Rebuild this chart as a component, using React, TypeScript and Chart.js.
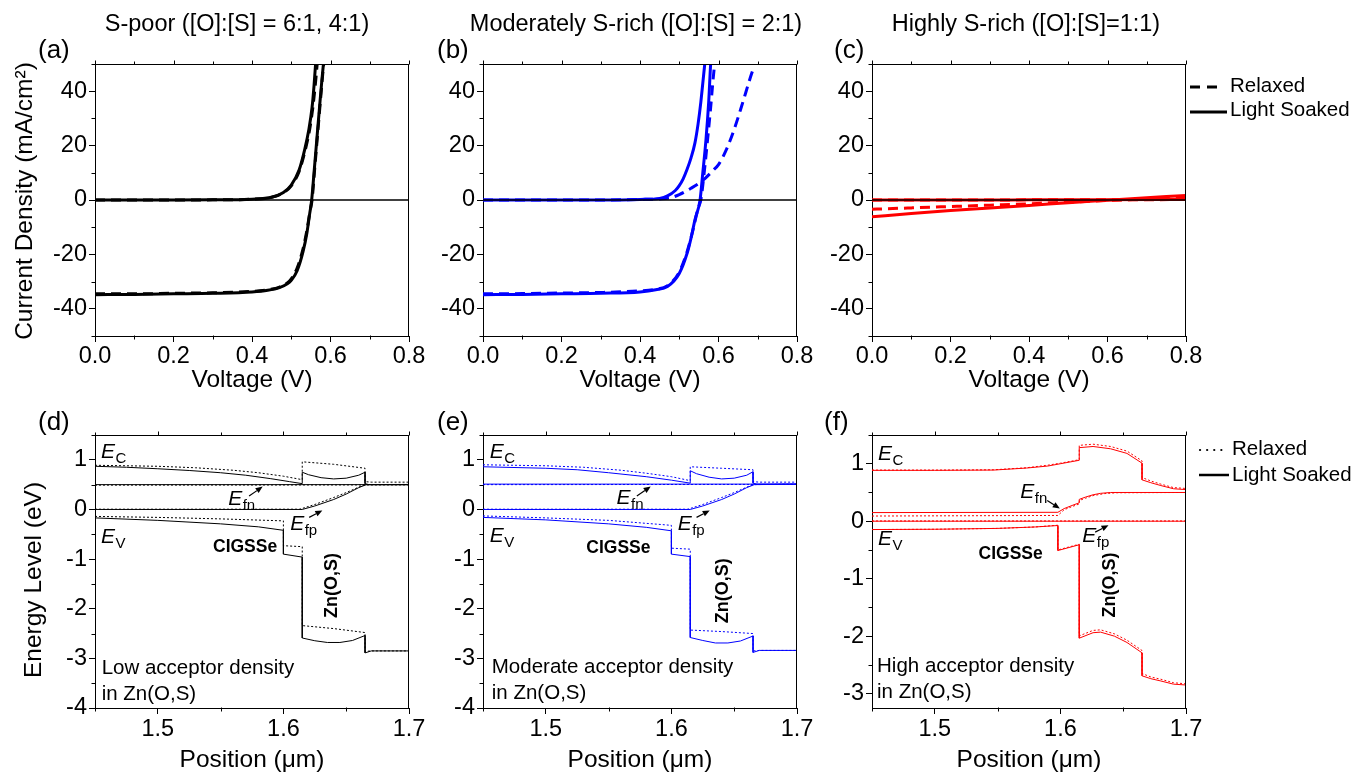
import React, { useEffect, useRef } from "react";
import { Chart, registerables } from "chart.js";
Chart.register(...registerables);

type P = [number, number];

const W = 1369;
const H = 772;
const AXW = 60;
const AXH = 40;
const FONT = "'Liberation Sans', Arial, Helvetica, sans-serif";

// ---------- tick values ----------
const voltageTicks = [0, 0.2, 0.4, 0.6, 0.8];
const voltageMinorTicks = [0.1, 0.3, 0.5, 0.7];
const currentTicks = [-40, -20, 0, 20, 40];
const currentMinorTicks = [-50, -30, -10, 10, 30, 50];
const positionTicks = [1.5, 1.6, 1.7];
const positionMinorTicks = [1.45, 1.55, 1.65];
const energyTicksDE = [-4, -3, -2, -1, 0, 1];
const energyMinorTicksDE = [-3.5, -2.5, -1.5, -0.5, 0.5, 1.5];
const energyTicksF = [-3, -2, -1, 0, 1];
const energyMinorTicksF = [-2.5, -1.5, -0.5, 0.5, 1.5];

// ---------- texts ----------
const columnTitles = [
  "S-poor ([O]:[S] = 6:1, 4:1)",
  "Moderately S-rich ([O]:[S] = 2:1)",
  "Highly S-rich ([O]:[S]=1:1)",
];
const panelLetters = ["(a)", "(b)", "(c)", "(d)", "(e)", "(f)"];
const acceptorLabels = ["Low acceptor density", "Moderate acceptor density", "High acceptor density"];
const acceptorSecondLine = "in Zn(O,S)";
const legendLabels = ["Relaxed", "Light Soaked"];

// ---------- J-V data (V, mA/cm2) ----------
const zeroLine: P[] = [[0, 0], [0.8, 0]];

const aDarkRelaxed: P[] = [[0, 0], [0.1, 0], [0.2, 0], [0.3, 0.05], [0.4, 0.3], [0.45, 1.0], [0.48, 2.7], [0.5, 5.2], [0.52, 10.5], [0.535, 18], [0.547, 26], [0.555, 34], [0.561, 42], [0.566, 50], [0.57, 57]];
const aDarkSoaked: P[] = [[0, 0], [0.1, 0], [0.2, 0], [0.3, 0.05], [0.4, 0.3], [0.45, 1.0], [0.48, 2.8], [0.5, 5.5], [0.52, 11], [0.535, 19], [0.545, 26], [0.553, 34], [0.558, 42], [0.562, 50], [0.566, 58]];
const aLightRelaxed: P[] = [[0, -34.5], [0.1, -34.5], [0.2, -34.3], [0.3, -34.1], [0.4, -33.6], [0.44, -33.0], [0.47, -32.0], [0.49, -30.5], [0.5, -29.0], [0.515, -25.0], [0.53, -18.0], [0.54, -11.0], [0.548, -4.0], [0.553, 0], [0.56, 12], [0.567, 24], [0.574, 36], [0.58, 46], [0.584, 52]];
const aLightSoaked: P[] = [[0, -34.8], [0.1, -34.7], [0.2, -34.5], [0.3, -34.3], [0.4, -33.8], [0.44, -33.2], [0.47, -32.2], [0.49, -30.8], [0.5, -29.5], [0.515, -26.0], [0.53, -19.0], [0.54, -12.0], [0.547, -5.0], [0.552, 0], [0.558, 10], [0.565, 22], [0.572, 34], [0.578, 44], [0.582, 50], [0.586, 56]];

const bDarkRelaxed: P[] = [[0, 0], [0.1, 0], [0.2, 0], [0.3, 0], [0.4, 0.2], [0.45, 0.4], [0.48, 0.9], [0.5, 2.0], [0.53, 4.3], [0.56, 7.2], [0.587, 11], [0.6, 13], [0.62, 18.5], [0.64, 26], [0.66, 35], [0.68, 44.5], [0.688, 48]];
const bDarkSoaked: P[] = [[0, 0], [0.1, 0], [0.2, 0], [0.3, 0], [0.4, 0.2], [0.45, 0.6], [0.47, 1.5], [0.49, 3.5], [0.5, 5.3], [0.51, 7.8], [0.52, 11.3], [0.53, 15.5], [0.54, 21], [0.548, 28], [0.555, 36], [0.56, 43], [0.565, 50], [0.57, 57]];
const bLightRelaxed: P[] = [[0, -34.5], [0.1, -34.4], [0.2, -34.2], [0.3, -34.0], [0.4, -33.4], [0.44, -32.8], [0.47, -31.5], [0.5, -26.5], [0.52, -19.0], [0.535, -11.0], [0.548, -3.0], [0.555, 0], [0.565, 12], [0.572, 22], [0.58, 34], [0.586, 44], [0.59, 50], [0.593, 56]];
const bLightSoaked: P[] = [[0, -34.8], [0.1, -34.7], [0.2, -34.5], [0.3, -34.3], [0.4, -33.8], [0.44, -33.0], [0.47, -31.8], [0.5, -27.0], [0.52, -19.6], [0.53, -14.0], [0.54, -7.3], [0.553, 0], [0.56, 10], [0.568, 22], [0.575, 36], [0.58, 50], [0.584, 57]];

const cDarkRelaxed: P[] = [[0, 0], [0.2, 0], [0.4, 0.05], [0.6, 0.1], [0.8, 0.15]];
const cDarkSoaked: P[] = [[0, 0], [0.2, 0], [0.4, 0.05], [0.6, 0.1], [0.8, 0.2]];
const cLightRelaxed: P[] = [[0, -3.4], [0.1, -2.9], [0.2, -2.4], [0.3, -1.9], [0.4, -1.4], [0.5, -0.8], [0.6, -0.2], [0.7, 0.4], [0.8, 1.0]];
const cLightSoaked: P[] = [[0, -6.2], [0.1, -5.0], [0.2, -3.9], [0.3, -2.9], [0.4, -2.0], [0.5, -1.0], [0.6, -0.1], [0.7, 0.8], [0.8, 1.7]];

// ---------- band diagrams (um, eV) ----------
const dEcSoaked: P[] = [[1.45, 0.87], [1.475, 0.85], [1.5, 0.82], [1.525, 0.785], [1.55, 0.74], [1.57, 0.69], [1.59, 0.62], [1.605, 0.56], [1.615, 0.52], [1.615, 0.75], [1.62, 0.7], [1.63, 0.64], [1.64, 0.615], [1.65, 0.63], [1.66, 0.69], [1.665, 0.75], [1.665, 0.52], [1.668, 0.5], [1.7, 0.5]];
const dEcRelaxed: P[] = [[1.45, 0.89], [1.5, 0.87], [1.53, 0.84], [1.56, 0.79], [1.58, 0.74], [1.6, 0.67], [1.615, 0.6], [1.615, 0.96], [1.64, 0.91], [1.665, 0.83], [1.665, 0.56], [1.67, 0.55], [1.7, 0.55]];
const dEfnSoaked: P[] = [[1.45, 0.5], [1.7, 0.5]];
const dEfnRelaxed: P[] = [[1.45, 0.49], [1.7, 0.495]];
const dEfpSoaked: P[] = [[1.45, 0], [1.615, 0], [1.625, 0.07], [1.64, 0.2], [1.65, 0.31], [1.66, 0.44], [1.666, 0.5], [1.7, 0.5]];
const dEfpRelaxed: P[] = [[1.45, 0.005], [1.613, 0.005], [1.625, 0.1], [1.64, 0.24], [1.65, 0.34], [1.66, 0.45], [1.665, 0.5], [1.7, 0.505]];
const dEvSoaked: P[] = [[1.45, -0.17], [1.5, -0.22], [1.55, -0.29], [1.58, -0.35], [1.6, -0.42], [1.6, -0.9], [1.615, -0.96], [1.615, -2.59], [1.625, -2.645], [1.635, -2.68], [1.645, -2.68], [1.655, -2.64], [1.665, -2.54], [1.665, -2.89], [1.67, -2.85], [1.7, -2.85]];
const dEvRelaxed: P[] = [[1.45, -0.14], [1.5, -0.16], [1.55, -0.19], [1.6, -0.23], [1.6, -0.73], [1.615, -0.75], [1.615, -2.34], [1.64, -2.4], [1.665, -2.48], [1.665, -2.86], [1.67, -2.85], [1.7, -2.85]];

const eEcSoaked: P[] = [[1.45, 0.86], [1.5, 0.83], [1.525, 0.8], [1.55, 0.74], [1.58, 0.66], [1.6, 0.59], [1.615, 0.53], [1.615, 0.78], [1.62, 0.72], [1.63, 0.65], [1.64, 0.615], [1.65, 0.63], [1.66, 0.69], [1.665, 0.76], [1.665, 0.53], [1.668, 0.51], [1.7, 0.51]];
const eEcRelaxed: P[] = [[1.45, 0.9], [1.5, 0.88], [1.53, 0.85], [1.56, 0.79], [1.58, 0.73], [1.6, 0.66], [1.615, 0.58], [1.615, 0.86], [1.64, 0.83], [1.665, 0.8], [1.665, 0.56], [1.67, 0.55], [1.7, 0.55]];
const eEfnSoaked: P[] = [[1.45, 0.51], [1.7, 0.51]];
const eEfnRelaxed: P[] = [[1.45, 0.5], [1.7, 0.505]];
const eEfpSoaked: P[] = [[1.45, 0], [1.615, 0], [1.625, 0.07], [1.64, 0.2], [1.65, 0.31], [1.66, 0.44], [1.666, 0.5], [1.7, 0.51]];
const eEfpRelaxed: P[] = [[1.45, 0.005], [1.613, 0.005], [1.625, 0.1], [1.64, 0.24], [1.65, 0.34], [1.66, 0.45], [1.665, 0.5], [1.7, 0.51]];
const eEvSoaked: P[] = [[1.45, -0.16], [1.5, -0.21], [1.55, -0.29], [1.58, -0.36], [1.6, -0.43], [1.6, -0.9], [1.615, -0.95], [1.615, -2.58], [1.625, -2.64], [1.635, -2.69], [1.645, -2.69], [1.655, -2.65], [1.665, -2.55], [1.665, -2.88], [1.67, -2.84], [1.7, -2.84]];
const eEvRelaxed: P[] = [[1.45, -0.13], [1.5, -0.17], [1.55, -0.22], [1.6, -0.32], [1.6, -0.78], [1.615, -0.8], [1.615, -2.43], [1.64, -2.46], [1.665, -2.5], [1.665, -2.85], [1.67, -2.84], [1.7, -2.84]];

const fEcSoaked: P[] = [[1.45, 0.885], [1.5, 0.885], [1.547, 0.89], [1.573, 0.925], [1.59, 0.96], [1.6, 1.0], [1.61, 1.04], [1.615, 1.06], [1.615, 1.28], [1.626, 1.3], [1.64, 1.26], [1.653, 1.18], [1.665, 1.01], [1.665, 0.72], [1.672, 0.67], [1.68, 0.62], [1.69, 0.565], [1.7, 0.55]];
const fEcRelaxed: P[] = [[1.45, 0.89], [1.5, 0.89], [1.547, 0.895], [1.573, 0.93], [1.59, 0.975], [1.6, 1.01], [1.61, 1.05], [1.615, 1.07], [1.615, 1.32], [1.626, 1.34], [1.64, 1.3], [1.653, 1.22], [1.665, 1.05], [1.665, 0.76], [1.672, 0.7], [1.68, 0.645], [1.69, 0.585], [1.7, 0.57]];
const fEfnSoaked: P[] = [[1.45, 0.15], [1.598, 0.155], [1.603, 0.22], [1.61, 0.28], [1.615, 0.32], [1.615, 0.38], [1.62, 0.42], [1.626, 0.46], [1.632, 0.485], [1.64, 0.5], [1.7, 0.5]];
const fEfnRelaxed: P[] = [[1.45, 0.09], [1.598, 0.1], [1.603, 0.2], [1.61, 0.26], [1.615, 0.3], [1.615, 0.36], [1.62, 0.4], [1.626, 0.445], [1.635, 0.48], [1.645, 0.495], [1.7, 0.5]];
const fEfpSoaked: P[] = [[1.45, 0], [1.7, 0]];
const fEfpRelaxed: P[] = [[1.45, 0.005], [1.7, 0.005]];
const fEvSoaked: P[] = [[1.45, -0.145], [1.5, -0.14], [1.55, -0.125], [1.58, -0.1], [1.598, -0.075], [1.598, -0.51], [1.615, -0.41], [1.615, -2.035], [1.626, -1.94], [1.632, -1.93], [1.643, -2.0], [1.653, -2.11], [1.665, -2.29], [1.665, -2.69], [1.672, -2.74], [1.68, -2.78], [1.69, -2.835], [1.7, -2.85]];
const fEvRelaxed: P[] = [[1.45, -0.145], [1.5, -0.14], [1.55, -0.125], [1.58, -0.1], [1.598, -0.07], [1.598, -0.5], [1.615, -0.4], [1.615, -1.995], [1.626, -1.9], [1.632, -1.89], [1.643, -1.96], [1.653, -2.07], [1.665, -2.25], [1.665, -2.65], [1.672, -2.71], [1.68, -2.75], [1.69, -2.81], [1.7, -2.83]];

// ---------- types ----------
type Series = { data: P[]; color: string; width: number; dash?: number[]; smooth?: boolean };
type Ann =
  | { t: "sub"; x: number; y: number; main: string; sub: string }
  | { t: "text"; x: number; y: number; s: string; size: number; bold?: boolean; align?: CanvasTextAlign }
  | { t: "rot"; x: number; y: number; s: string; size: number; bold?: boolean }
  | { t: "arrow"; x1: number; y1: number; x2: number; y2: number };

type Panel = {
  box: [number, number, number, number];
  xr: [number, number];
  yr: [number, number];
  xTicks: number[];
  xMinor: number[];
  yTicks: number[];
  yMinor: number[];
  xDec: number;
  row: 0 | 1;
  series: Series[];
  anns: Ann[];
  letter: string;
  letterX: number;
  title?: string;
  titleX?: number;
  xTitle: string;
  yTitle?: string;
  yTitleX?: number;
  yTitleY?: number;
  legend?: "dash" | "dot";
};

const BLACK = "#000000";
const BLUE = "#0000ff";
const RED = "#ff0000";
const JV_W = 3;
const JV_DASH = [10, 6];
const BD_W = 1;
const BD_DOT = [2, 2];

const TICK_SIZE = 23.5;
const AXIS_TITLE_SIZE = 24.5;
const COL_TITLE_SIZE = 23.5;

function jvSeries(color: string, dr: P[], ds: P[], lr: P[], ls: P[]): Series[] {
  return [
    { data: zeroLine, color: BLACK, width: 1.6 },
    { data: dr, color, width: JV_W, dash: JV_DASH, smooth: true },
    { data: lr, color, width: JV_W, dash: JV_DASH, smooth: true },
    { data: ds, color, width: JV_W, smooth: true },
    { data: ls, color, width: JV_W, smooth: true },
  ];
}
function bandSeries(color: string, sets: [P[], P[]][]): Series[] {
  const out: Series[] = [];
  sets.forEach(([soaked, relaxed]) => {
    out.push({ data: relaxed, color, width: BD_W, dash: BD_DOT });
    out.push({ data: soaked, color, width: BD_W });
  });
  return out;
}

const TOP: [number, number] = [64, 336];
const BOT: [number, number] = [435, 708];

const PANELS: Panel[] = [
  {
    box: [95, TOP[0], 409, TOP[1]], xr: [0, 0.8], yr: [-50, 50],
    xTicks: voltageTicks, xMinor: voltageMinorTicks, yTicks: currentTicks, yMinor: currentMinorTicks,
    xDec: 1, row: 0, series: jvSeries(BLACK, aDarkRelaxed, aDarkSoaked, aLightRelaxed, aLightSoaked), anns: [],
    letter: panelLetters[0], letterX: 38, title: columnTitles[0], titleX: 237, xTitle: "Voltage (V)",
    yTitle: "Current Density (mA/cm\u00B2)", yTitleX: 25, yTitleY: 201,
  },
  {
    box: [483, TOP[0], 797, TOP[1]], xr: [0, 0.8], yr: [-50, 50],
    xTicks: voltageTicks, xMinor: voltageMinorTicks, yTicks: currentTicks, yMinor: currentMinorTicks,
    xDec: 1, row: 0, series: jvSeries(BLUE, bDarkRelaxed, bDarkSoaked, bLightRelaxed, bLightSoaked), anns: [],
    letter: panelLetters[1], letterX: 437, title: columnTitles[1], titleX: 636, xTitle: "Voltage (V)",
  },
  {
    box: [872, TOP[0], 1186, TOP[1]], xr: [0, 0.8], yr: [-50, 50],
    xTicks: voltageTicks, xMinor: voltageMinorTicks, yTicks: currentTicks, yMinor: currentMinorTicks,
    xDec: 1, row: 0, series: jvSeries(RED, cDarkRelaxed, cDarkSoaked, cLightRelaxed, cLightSoaked), anns: [],
    letter: panelLetters[2], letterX: 834, title: columnTitles[2], titleX: 1026, xTitle: "Voltage (V)", legend: "dash",
  },
  {
    box: [95, BOT[0], 409, BOT[1]], xr: [1.45, 1.7], yr: [-4, 1.5],
    xTicks: positionTicks, xMinor: positionMinorTicks, yTicks: energyTicksDE, yMinor: energyMinorTicksDE,
    xDec: 1, row: 1,
    series: bandSeries(BLACK, [[dEfnSoaked, dEfnRelaxed], [dEfpSoaked, dEfpRelaxed], [dEcSoaked, dEcRelaxed], [dEvSoaked, dEvRelaxed]]),
    anns: [
      { t: "sub", x: 1.4548, y: 1.03, main: "E", sub: "C" },
      { t: "sub", x: 1.4548, y: -0.67, main: "E", sub: "V" },
      { t: "sub", x: 1.556, y: 0.09, main: "E", sub: "fn" },
      { t: "arrow", x1: 1.5727, y1: 0.27, x2: 1.5835, y2: 0.46 },
      { t: "sub", x: 1.6054, y: -0.42, main: "E", sub: "fp" },
      { t: "arrow", x1: 1.6205, y1: -0.16, x2: 1.631, y2: -0.02 },
      { t: "text", x: 1.5695, y: -0.865, s: "CIGSSe", size: 17.5, bold: true, align: "center" },
      { t: "rot", x: 1.6389, y: -1.53, s: "Zn(O,S)", size: 18, bold: true },
      { t: "text", x: 1.4553, y: -3.32, s: acceptorLabels[0], size: 20.5 },
      { t: "text", x: 1.4553, y: -3.83, s: acceptorSecondLine, size: 20.5 },
    ],
    letter: panelLetters[3], letterX: 38, xTitle: "Position (\u03BCm)",
    yTitle: "Energy Level (eV)", yTitleX: 34, yTitleY: 580,
  },
  {
    box: [483, BOT[0], 797, BOT[1]], xr: [1.45, 1.7], yr: [-4, 1.5],
    xTicks: positionTicks, xMinor: positionMinorTicks, yTicks: energyTicksDE, yMinor: energyMinorTicksDE,
    xDec: 1, row: 1,
    series: bandSeries(BLUE, [[eEfnSoaked, eEfnRelaxed], [eEfpSoaked, eEfpRelaxed], [eEcSoaked, eEcRelaxed], [eEvSoaked, eEvRelaxed]]),
    anns: [
      { t: "sub", x: 1.4553, y: 1.04, main: "E", sub: "C" },
      { t: "sub", x: 1.4553, y: -0.65, main: "E", sub: "V" },
      { t: "sub", x: 1.5563, y: 0.11, main: "E", sub: "fn" },
      { t: "arrow", x1: 1.5725, y1: 0.27, x2: 1.5835, y2: 0.46 },
      { t: "sub", x: 1.605, y: -0.41, main: "E", sub: "fp" },
      { t: "arrow", x1: 1.62, y1: -0.16, x2: 1.6305, y2: -0.02 },
      { t: "text", x: 1.5578, y: -0.875, s: "CIGSSe", size: 17.5, bold: true, align: "center" },
      { t: "rot", x: 1.6414, y: -1.64, s: "Zn(O,S)", size: 18, bold: true },
      { t: "text", x: 1.457, y: -3.3, s: acceptorLabels[1], size: 20.5 },
      { t: "text", x: 1.457, y: -3.81, s: acceptorSecondLine, size: 20.5 },
    ],
    letter: panelLetters[4], letterX: 437, xTitle: "Position (\u03BCm)",
  },
  {
    box: [872, BOT[0], 1186, BOT[1]], xr: [1.45, 1.7], yr: [-3.25, 1.5],
    xTicks: positionTicks, xMinor: positionMinorTicks, yTicks: energyTicksF, yMinor: energyMinorTicksF,
    xDec: 1, row: 1,
    series: bandSeries(RED, [[fEfpSoaked, fEfpRelaxed], [fEfnSoaked, fEfnRelaxed], [fEcSoaked, fEcRelaxed], [fEvSoaked, fEvRelaxed]]),
    anns: [
      { t: "sub", x: 1.4548, y: 1.06, main: "E", sub: "C" },
      { t: "sub", x: 1.4548, y: -0.42, main: "E", sub: "V" },
      { t: "sub", x: 1.568, y: 0.4, main: "E", sub: "fn" },
      { t: "arrow", x1: 1.5895, y1: 0.36, x2: 1.5995, y2: 0.22 },
      { t: "sub", x: 1.6174, y: -0.37, main: "E", sub: "fp" },
      { t: "arrow", x1: 1.6277, y1: -0.19, x2: 1.6383, y2: -0.07 },
      { t: "text", x: 1.5604, y: -0.65, s: "CIGSSe", size: 17.5, bold: true, align: "center" },
      { t: "rot", x: 1.6397, y: -1.11, s: "Zn(O,S)", size: 18, bold: true },
      { t: "text", x: 1.454, y: -2.62, s: acceptorLabels[2], size: 20.5 },
      { t: "text", x: 1.454, y: -3.08, s: acceptorSecondLine, size: 20.5 },
    ],
    letter: panelLetters[5], letterX: 824, xTitle: "Position (\u03BCm)", legend: "dot",
  },
];

function setFont(ctx: CanvasRenderingContext2D, size: number, bold = false, italic = false) {
  ctx.font = `${italic ? "italic " : ""}${bold ? "bold " : ""}${size}px ${FONT}`;
}

function drawText(ctx: CanvasRenderingContext2D, s: string, x: number, y: number, size: number,
  align: CanvasTextAlign = "left", baseline: CanvasTextBaseline = "alphabetic", bold = false, italic = false) {
  setFont(ctx, size, bold, italic);
  ctx.textAlign = align;
  ctx.textBaseline = baseline;
  ctx.fillStyle = "#000";
  ctx.fillText(s, x, y);
}

function drawRot(ctx: CanvasRenderingContext2D, s: string, x: number, y: number, size: number, bold = false) {
  ctx.save();
  ctx.translate(x, y);
  ctx.rotate(-Math.PI / 2);
  drawText(ctx, s, 0, 0, size, "center", "middle", bold);
  ctx.restore();
}

function drawArrow(ctx: CanvasRenderingContext2D, x1: number, y1: number, x2: number, y2: number) {
  const ang = Math.atan2(y2 - y1, x2 - x1);
  const hl = 7, hw = 3;
  const bx = x2 - hl * Math.cos(ang), by = y2 - hl * Math.sin(ang);
  ctx.save();
  ctx.strokeStyle = "#000";
  ctx.fillStyle = "#000";
  ctx.lineWidth = 1.2;
  ctx.setLineDash([]);
  ctx.beginPath();
  ctx.moveTo(x1, y1);
  ctx.lineTo(bx, by);
  ctx.stroke();
  ctx.beginPath();
  ctx.moveTo(x2, y2);
  ctx.lineTo(bx - hw * Math.sin(ang), by + hw * Math.cos(ang));
  ctx.lineTo(bx + hw * Math.sin(ang), by - hw * Math.cos(ang));
  ctx.closePath();
  ctx.fill();
  ctx.restore();
}

function line(ctx: CanvasRenderingContext2D, x1: number, y1: number, x2: number, y2: number, w = 1, dash: number[] = [], color = "#000") {
  ctx.save();
  ctx.strokeStyle = color;
  ctx.lineWidth = w;
  ctx.setLineDash(dash);
  ctx.beginPath();
  ctx.moveTo(x1, y1);
  ctx.lineTo(x2, y2);
  ctx.stroke();
  ctx.restore();
}

function buildChart(canvas: HTMLCanvasElement, p: Panel) {
  const pad = { left: p.box[0] - AXW, top: p.box[1], right: W - p.box[2], bottom: H - p.box[3] - AXH };
  const datasets = p.series.map((s) => ({
    data: s.data.map(([x, y]) => ({ x, y })),
    borderColor: s.color,
    backgroundColor: s.color,
    borderWidth: s.width,
    borderDash: s.dash || [],
    pointRadius: 0,
    fill: false,
    tension: 0,
    cubicInterpolationMode: s.smooth ? "monotone" : "default",
    borderJoinStyle: "round",
  }));

  const overlay = {
    id: "overlay" + p.letter,
    afterDraw(chart: any) {
      const ctx: CanvasRenderingContext2D = chart.ctx;
      const sx = chart.scales.x;
      const sy = chart.scales.y;
      const a = chart.chartArea;
      const L = Math.round(a.left) + 0.5;
      const R = Math.round(a.right) - 0.5;
      const T = Math.round(a.top) + 0.5;
      const B = Math.round(a.bottom) - 0.5;
      // frame top/right
      line(ctx, L, T, R + 0.5, T);
      line(ctx, R, T, R, B + 0.5);
      // minor ticks
      p.xMinor.forEach((v) => {
        const x = Math.round(sx.getPixelForValue(v)) + 0.5;
        line(ctx, x, B, x, B + 4);
        line(ctx, x, T, x, T - 3);
      });
      p.xTicks.forEach((v) => {
        const x = Math.round(sx.getPixelForValue(v)) + 0.5;
        line(ctx, x, T, x, T - 4);
      });
      p.yMinor.forEach((v) => {
        const y = Math.round(sy.getPixelForValue(v)) + 0.5;
        line(ctx, L, y, L - 4, y);
      });
      // panel letter
      drawText(ctx, p.letter, p.letterX, p.row === 0 ? 58 : 430, 26);
      // column title
      if (p.title && p.titleX) drawText(ctx, p.title, p.titleX, 31, COL_TITLE_SIZE, "center");
      // axis titles
      const cx = (a.left + a.right) / 2;
      drawText(ctx, p.xTitle, cx, p.row === 0 ? a.bottom + 51 : a.bottom + 59, AXIS_TITLE_SIZE, "center");
      if (p.yTitle && p.yTitleX && p.yTitleY) drawRot(ctx, p.yTitle, p.yTitleX, p.yTitleY, AXIS_TITLE_SIZE);
      // annotations
      p.anns.forEach((an) => {
        if (an.t === "sub") {
          const x = sx.getPixelForValue(an.x), y = sy.getPixelForValue(an.y);
          drawText(ctx, an.main, x, y, 21, "left", "alphabetic", false, true);
          setFont(ctx, 21, false, true);
          const w = ctx.measureText(an.main).width;
          drawText(ctx, an.sub, x + w + 0.5, y + 5, 15);
        } else if (an.t === "text") {
          drawText(ctx, an.s, sx.getPixelForValue(an.x), sy.getPixelForValue(an.y), an.size, an.align || "left", "alphabetic", !!an.bold);
        } else if (an.t === "rot") {
          drawRot(ctx, an.s, sx.getPixelForValue(an.x), sy.getPixelForValue(an.y), an.size, !!an.bold);
        } else if (an.t === "arrow") {
          drawArrow(ctx, sx.getPixelForValue(an.x1), sy.getPixelForValue(an.y1), sx.getPixelForValue(an.x2), sy.getPixelForValue(an.y2));
        }
      });
      // legends
      if (p.legend === "dash") {
        line(ctx, a.right + 4, a.top + 23, a.right + 36, a.top + 23, 3, [10, 7]);
        drawText(ctx, legendLabels[0], a.right + 44, a.top + 22, 20.5, "left", "middle");
        line(ctx, a.right + 4, a.top + 48, a.right + 41, a.top + 48, 3);
        drawText(ctx, legendLabels[1], a.right + 44, a.top + 46, 20.5, "left", "middle");
      } else if (p.legend === "dot") {
        ctx.save();
        ctx.lineCap = "round";
        line(ctx, a.right + 14, a.top + 15, a.right + 41, a.top + 15, 2.2, [0.1, 7]);
        ctx.restore();
        drawText(ctx, legendLabels[0], a.right + 46, a.top + 14, 20.5, "left", "middle");
        line(ctx, a.right + 13, a.top + 40, a.right + 43, a.top + 40, 2.5);
        drawText(ctx, legendLabels[1], a.right + 46, a.top + 40, 20.5, "left", "middle");
      }
    },
  };

  const tickFont = { family: FONT, size: TICK_SIZE };
  return new Chart(canvas, {
    type: "line",
    data: { datasets: datasets as any },
    options: {
      responsive: false,
      animation: false,
      events: [],
      layout: { padding: pad },
      plugins: { legend: { display: false }, tooltip: { enabled: false }, title: { display: false } },
      scales: {
        x: {
          type: "linear",
          min: p.xr[0],
          max: p.xr[1],
          afterBuildTicks: (s: any) => { s.ticks = p.xTicks.map((v) => ({ value: v })); },
          afterFit: (s: any) => { s.height = AXH; },
          grid: { drawOnChartArea: false, drawTicks: true, tickLength: 6, tickColor: "#000", tickWidth: 1 },
          border: { display: true, color: "#000", width: 1 },
          ticks: {
            color: "#000", font: tickFont, padding: p.row === 0 ? 0 : 1, maxRotation: 0, autoSkip: false,
            callback: (v: any) => Number(v).toFixed(p.xDec),
          },
        },
        y: {
          type: "linear",
          min: p.yr[0],
          max: p.yr[1],
          afterBuildTicks: (s: any) => { s.ticks = p.yTicks.map((v) => ({ value: v })); },
          afterFit: (s: any) => { s.width = AXW; },
          grid: { drawOnChartArea: false, drawTicks: true, tickLength: 6, tickColor: "#000", tickWidth: 1 },
          border: { display: true, color: "#000", width: 1 },
          ticks: {
            color: "#000", font: tickFont, padding: 2, autoSkip: false,
            callback: (v: any) => String(Number(v)),
          },
        },
      },
    } as any,
    plugins: [overlay],
  });
}

export default function App() {
  const refs = useRef<(HTMLCanvasElement | null)[]>([]);
  useEffect(() => {
    const charts = PANELS.map((p, i) => buildChart(refs.current[i] as HTMLCanvasElement, p));
    return () => charts.forEach((c) => c.destroy());
  }, []);
  return (
    <div style={{ position: "fixed", left: 0, top: 0, width: W, height: H, background: "#fff", overflow: "hidden" }}>
      {PANELS.map((p, i) => (
        <canvas
          key={p.letter}
          ref={(el) => { refs.current[i] = el; }}
          width={W}
          height={H}
          style={{ position: "absolute", left: 0, top: 0, width: W, height: H }}
        />
      ))}
    </div>
  );
}
